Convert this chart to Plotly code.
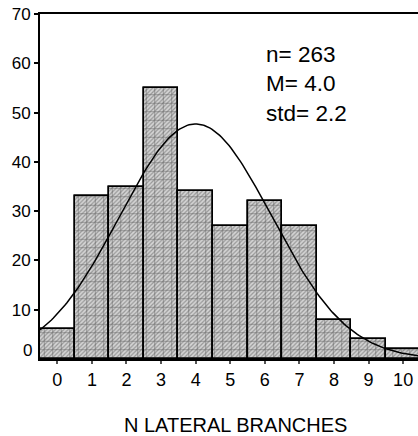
import numpy as np
import plotly.graph_objects as go

branches = [0, 1, 2, 3, 4, 5, 6, 7, 8, 9, 10]
counts = [6, 33, 35, 55, 34, 27, 32, 27, 8, 4, 2]
n_total = 263
mean_val = 4.0
std_val = 2.2
y_ticks = [10, 20, 30, 40, 50, 60, 70]

fig = go.Figure()
fig.add_trace(go.Bar(
    x=branches, y=counts, width=1,
    marker=dict(color="#c8c8c8",
                line=dict(color="black", width=1.5),
                pattern=dict(shape="/", fgcolor="#5a5a5a", bgcolor="#d4d4d4", size=3, solidity=0.4)),
    showlegend=False, hoverinfo="skip"))
fig.add_trace(go.Bar(
    x=branches, y=counts, width=1,
    marker=dict(color="rgba(0,0,0,0)",
                line=dict(color="black", width=1.5),
                pattern=dict(shape="+", fgcolor="#555555", bgcolor="rgba(0,0,0,0)", size=8.5, solidity=0.22, fillmode="overlay")),
    showlegend=False, hoverinfo="skip"))

xs = np.linspace(-0.5, 10.5, 200)
ys = n_total * 1.0 / (std_val * np.sqrt(2 * np.pi)) * np.exp(-(xs - mean_val) ** 2 / (2 * std_val ** 2))
fig.add_trace(go.Scatter(x=xs, y=ys, mode="lines", line=dict(color="black", width=1.5),
                         showlegend=False, hoverinfo="skip"))

fig.add_annotation(x=0, y=0, xref="paper", yref="y", text="0", showarrow=False,
                   xanchor="right", yanchor="middle", xshift=-6, yshift=9,
                   font=dict(family="Liberation Sans", size=17, color="black"))
fig.add_annotation(x=0.593, y=0.925, xref="paper", yref="paper",
                   text=f"n= {n_total}<br>M= {mean_val:.1f}<br>std= {std_val:.1f}",
                   showarrow=False, xanchor="left", yanchor="top", align="left",
                   font=dict(family="Liberation Sans", size=22.5, color="black"))
fig.add_annotation(x=(235 - 40) / 378, y=-(425 - 359) / 345, xref="paper", yref="paper",
                   text="N LATERAL BRANCHES", showarrow=False,
                   xanchor="center", yanchor="middle",
                   font=dict(family="Liberation Sans", size=20, color="black"))

fig.update_layout(
    width=418, height=436,
    margin=dict(l=40, r=0, t=14, b=77),
    paper_bgcolor="white", plot_bgcolor="white",
    barmode="overlay", bargap=0,
    font=dict(family="Liberation Sans", size=17, color="black"),
    xaxis=dict(range=[-0.5, 10.43], tickvals=branches, ticks="outside", ticklen=3, tickwidth=1.5,
               tickcolor="#555", showline=True, linecolor="black", linewidth=2, mirror=True,
               showgrid=False, zeroline=False, tickfont=dict(size=18)),
    yaxis=dict(range=[0, 70], tickvals=y_ticks, ticks="outside", ticklen=4, tickwidth=2,
               tickcolor="black", showline=True, linecolor="black", linewidth=2,
               showgrid=False, zeroline=False, tickfont=dict(size=17)),
)
fig.write_html("out.html")
